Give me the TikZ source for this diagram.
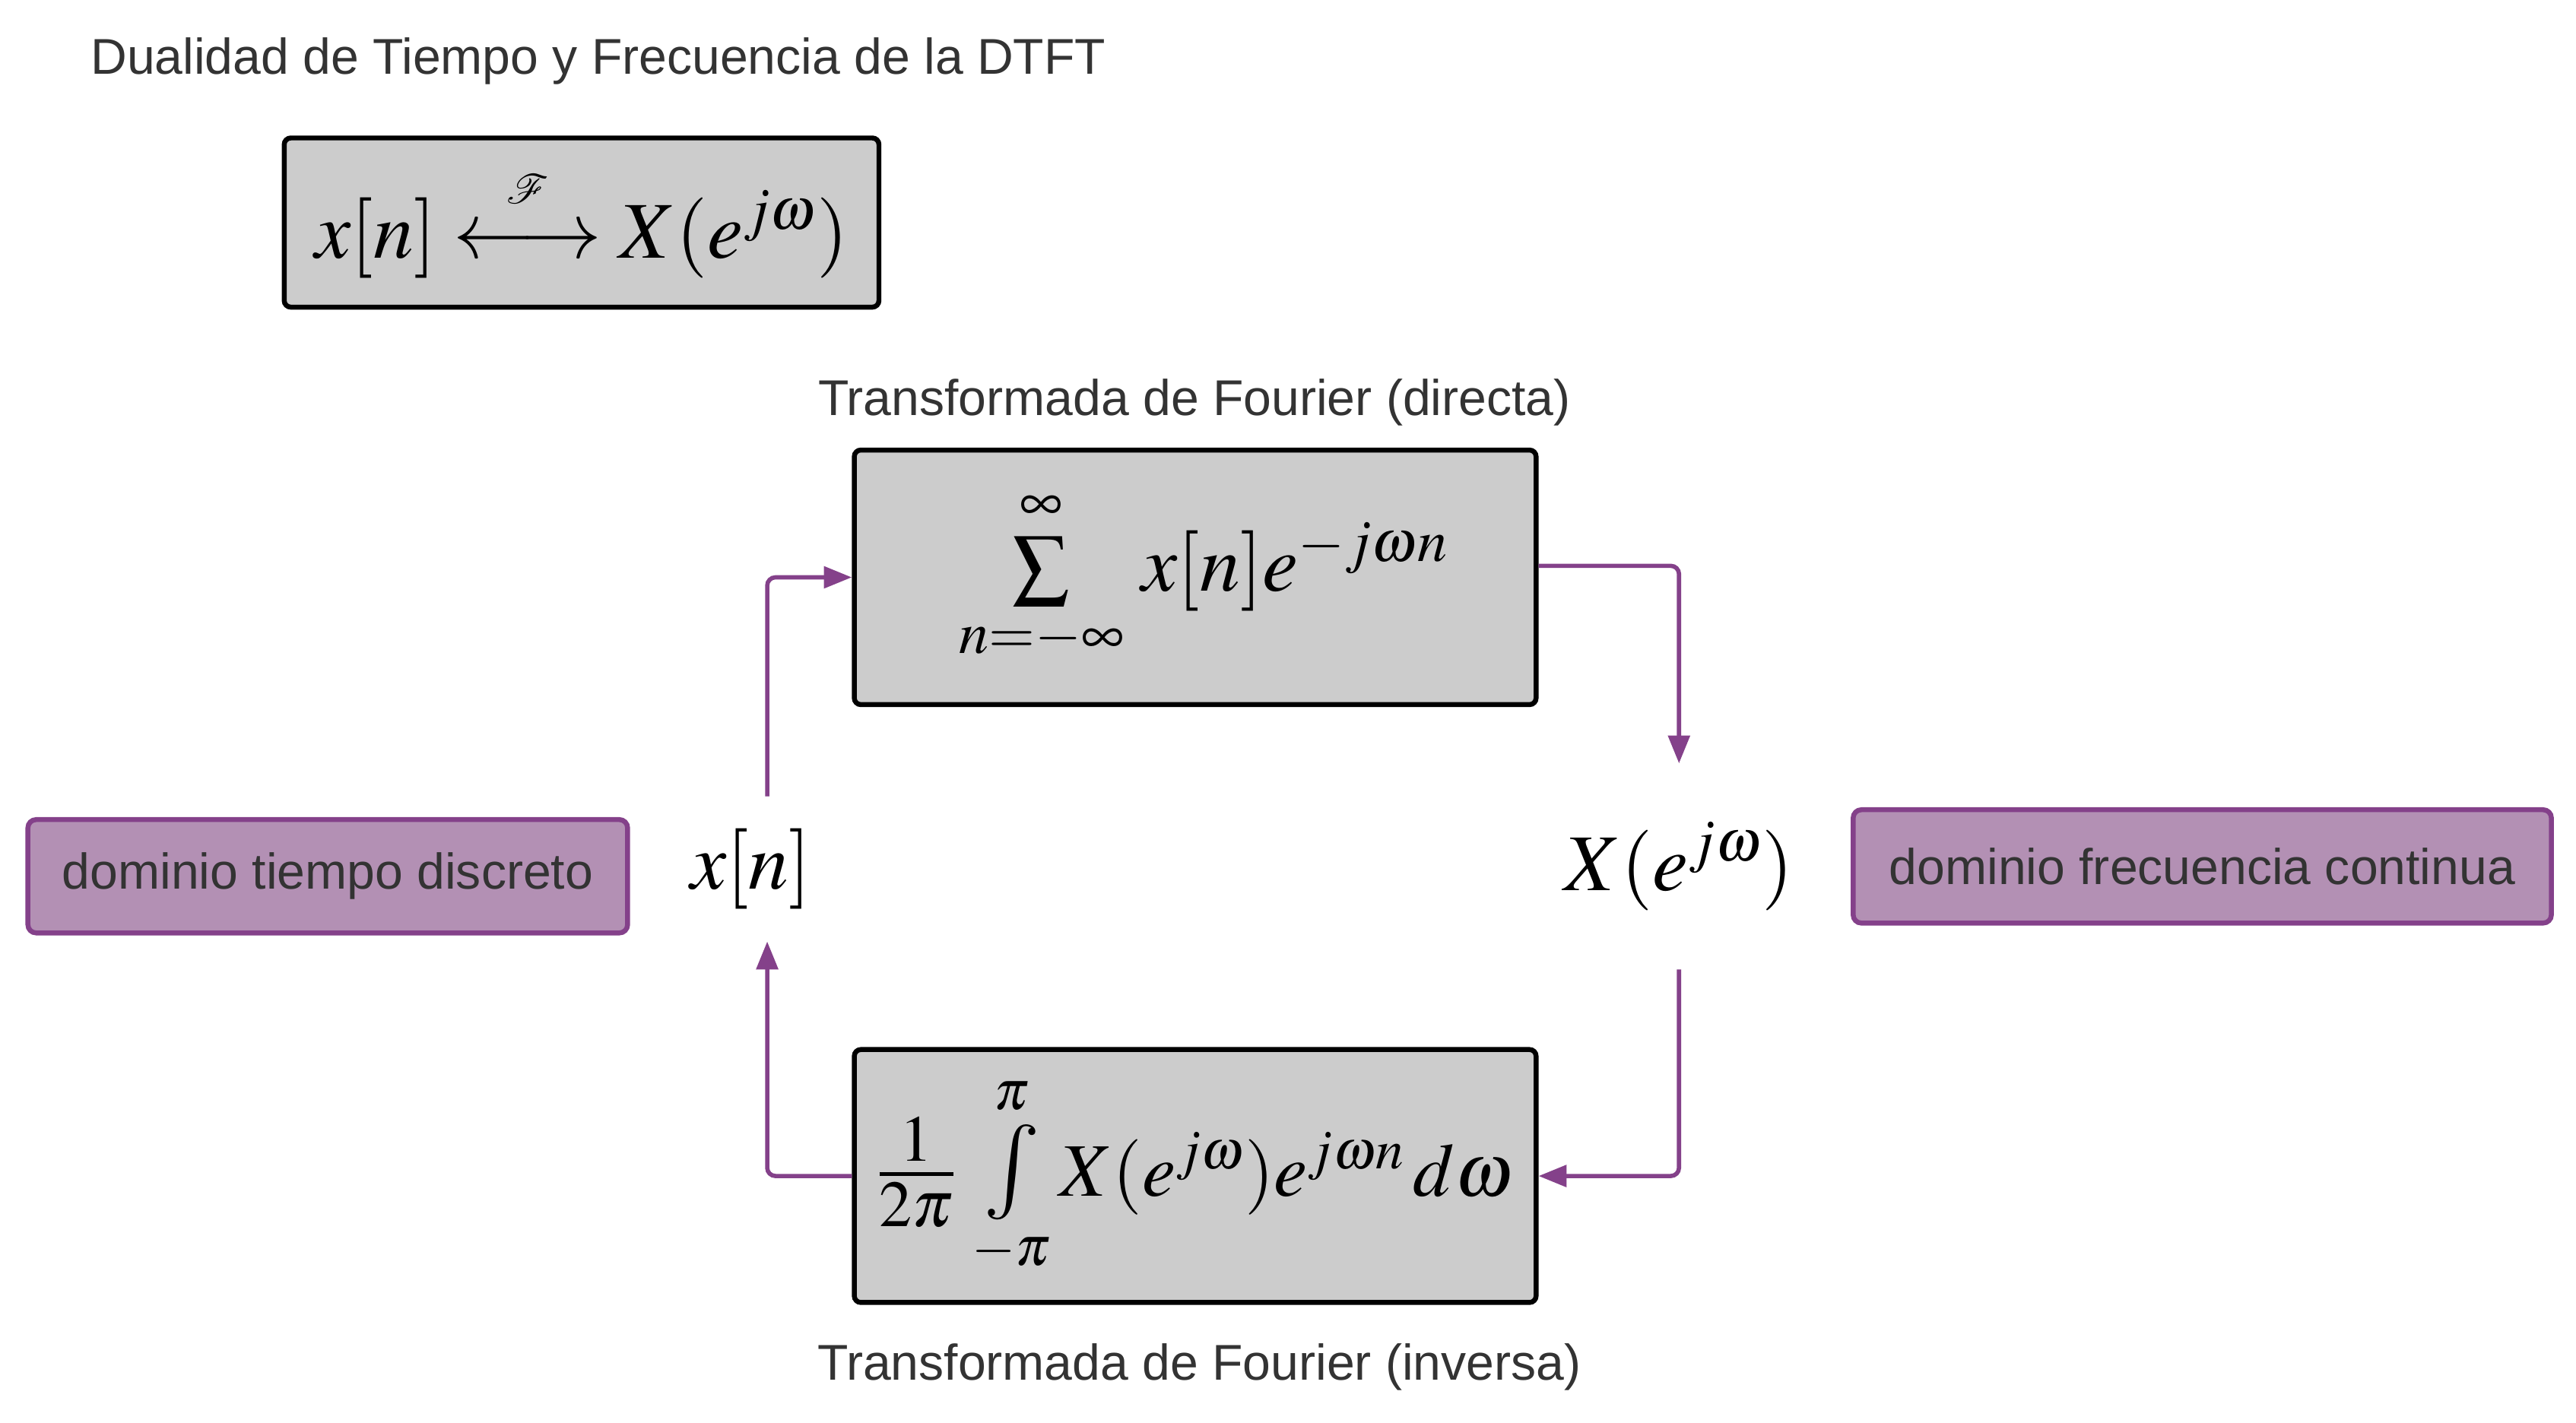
\documentclass[tikz,border=0pt]{standalone}
\usepackage{mathptmx}
\usepackage{mathrsfs}
\usepackage[no-math]{fontspec}
\setmainfont{Liberation Sans}
\usetikzlibrary{arrows.meta}
\definecolor{txt}{HTML}{333333}
\definecolor{plum}{HTML}{84418A}
\definecolor{plumfill}{HTML}{B390B4}
\definecolor{boxgray}{HTML}{CCCCCC}
\tikzset{
  graybox/.style={draw=black, line width=3pt, fill=boxgray, rounded corners=4pt, inner sep=0pt},
  purplebox/.style={draw=plum, line width=3pt, fill=plumfill, rounded corners=5pt, inner sep=0pt,
    text=txt, font=\fontsize{30.6}{36}\selectfont},
  lbl/.style={text=txt, font=\fontsize{30.6}{36}\selectfont, inner sep=0pt},
  mathbig/.style={font=\fontsize{49}{56}\selectfont, inner sep=0pt},
  mathmid/.style={font=\fontsize{46}{52}\selectfont, inner sep=0pt},
  conn/.style={draw=plum, line width=2.6pt, rounded corners=5pt, -{Triangle[length=17pt,width=13pt]}}
}
\begin{document}
\begin{tikzpicture}[x=1pt,y=-1pt]
\useasboundingbox (0,0) rectangle (1568,866);
% title
\node[lbl, anchor=base west] (title) at (55,45) {Dualidad de Tiempo y Frecuencia de la DTFT};
% pair box
\node[graybox, mathbig, minimum width=362, minimum height=103] (pair) at (354,135.5)
  {$x[n]\mathrel{\mathop{\longleftrightarrow}\limits^{\mbox{\fontsize{44}{46}\selectfont$\mathscr{F}$}\rule[-10pt]{0pt}{0pt}}}X(e^{j\omega})$};
% labels
\node[lbl, anchor=base] (tdir) at (727,253) {Transformada de Fourier (directa)};
\node[lbl, anchor=base] (tinv) at (730,840) {Transformada de Fourier (inversa)};
% DTFT box
\node[graybox, mathbig, minimum width=415, minimum height=155] (dtft) at (727.5,351.5)
  {\hspace{10pt}$\textstyle\sum\limits_{\rule{0pt}{16pt}n=-\infty}^{\infty\rule[-4pt]{0pt}{0pt}}\, x[n]e^{-j\omega n}$};
% inverse box
\node[graybox, mathmid, minimum width=415, minimum height=154] (idtft) at (727.5,716)
  {\mbox{\fontsize{54}{58}\selectfont$\frac{1}{2\pi}$}$\;\mathop{\mbox{\fontsize{58}{60}\selectfont$\textstyle\int$}}\limits_{\rule{0pt}{18pt}-\pi}^{\pi} X(e^{j\omega})e^{j\omega n}\,d\omega$};
% signals
\node[mathbig, minimum height=88] (xn) at (457,529) {$x[n]$};
\node[mathbig, minimum height=125] (Xw) at (1022,527.5) {$X(e^{j\omega})$};
% domain boxes
\node[purplebox, minimum width=365, minimum height=69] (dtd) at (199.5,533.5) {dominio tiempo discreto};
\node[purplebox, minimum width=425, minimum height=69] (dfc) at (1340.5,527.5) {dominio frecuencia continua};
% connectors
\draw[conn] ([xshift=10pt]xn.north) |- (dtft.west);
\draw[conn] ([yshift=7pt]dtft.east) -| (Xw.north);
\draw[conn] (Xw.south) |- (idtft.east);
\draw[conn] (idtft.west) -| ([xshift=10pt]xn.south);
\end{tikzpicture}
\end{document}
